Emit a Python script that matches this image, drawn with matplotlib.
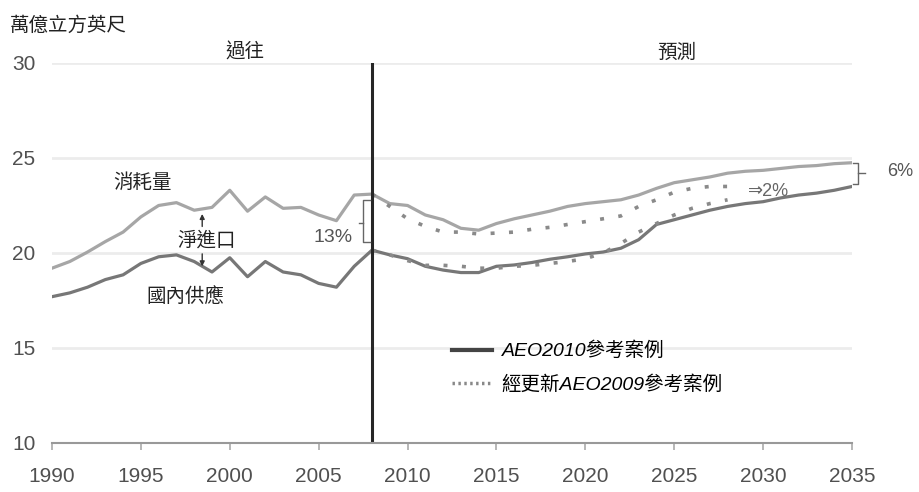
import matplotlib
matplotlib.use("Agg")
import matplotlib.pyplot as plt
from matplotlib.lines import Line2D

plt.rcParams['font.family'] = ['Noto Sans CJK TC', 'DejaVu Sans']

# AEO2010 (history 1990-2008 + projection to 2035), trillion cubic feet
years = list(range(1990, 2036))
consumption = [19.2, 19.55, 20.05, 20.6, 21.1, 21.9, 22.5, 22.65, 22.25, 22.4,
               23.3, 22.2, 22.95, 22.35, 22.4, 22.0, 21.7, 23.05, 23.1,
               22.6, 22.5, 22.0, 21.75, 21.3, 21.2, 21.55, 21.8, 22.0, 22.2,
               22.45, 22.6, 22.7, 22.8, 23.05, 23.4, 23.7, 23.85, 24.0, 24.2,
               24.3, 24.35, 24.45, 24.55, 24.6, 24.7, 24.75]
supply = [17.7, 17.9, 18.2, 18.6, 18.85, 19.45, 19.8, 19.9, 19.55, 19.0,
          19.75, 18.75, 19.55, 19.0, 18.85, 18.4, 18.2, 19.3, 20.15,
          19.9, 19.7, 19.3, 19.1, 18.97, 18.97, 19.3, 19.37, 19.5, 19.67,
          19.8, 19.95, 20.05, 20.25, 20.7, 21.5, 21.75, 22.0, 22.25, 22.45,
          22.6, 22.7, 22.9, 23.05, 23.15, 23.3, 23.5]

# updated AEO2009 reference case
years09 = list(range(2008, 2029))
consumption09 = [23.1, 22.45, 21.8, 21.4, 21.1, 21.1, 21.0, 21.05, 21.1, 21.25,
                 21.35, 21.5, 21.65, 21.8, 21.95, 22.45, 22.8, 23.2, 23.4,
                 23.5, 23.5]
supply09 = [20.15, 19.9, 19.6, 19.35, 19.35, 19.3, 19.2, 19.2, 19.3, 19.35,
            19.45, 19.55, 19.7, 20.0, 20.5, 21.1, 21.55, 22.0, 22.35, 22.6, 22.8]

xticks = [1990, 1995, 2000, 2005, 2010, 2015, 2020, 2025, 2030, 2035]
yticks = [10, 15, 20, 25, 30]

fig = plt.figure(figsize=(9.2, 4.92), dpi=100)
ax = fig.add_axes([0.0565, 0.0996, 0.8696, 0.7724])

ax.plot(years, consumption, color='#a6a6a6', lw=2.3, solid_joinstyle='round')
ax.plot(years, supply, color='#777777', lw=2.3, solid_joinstyle='round')
ax.plot(years09, consumption09, color='#8a8a8a', lw=2.6, dashes=(1.1, 4.0))
ax.plot(years09, supply09, color='#8a8a8a', lw=2.6, dashes=(1.1, 4.0))

ax.axvline(2008, color='#262626', lw=2.2)

ax.set_xlim(1990, 2035)
ax.set_ylim(10, 30)
ax.set_xticks(xticks)
ax.set_yticks(yticks)
ax.set_xticklabels([str(t) for t in xticks], family='Liberation Sans', fontsize=15, color='#505050')
ax.set_yticklabels([str(t) for t in yticks], family='Liberation Sans', fontsize=15, color='#505050')
ax.tick_params(axis='x', length=5, width=1.2, color='#aaaaaa', pad=12)
ax.tick_params(axis='y', length=0, pad=12)
ax.grid(axis='y', color='#ececec', lw=2)
ax.set_axisbelow(True)
for s in ['left', 'top', 'right']:
    ax.spines[s].set_visible(False)
ax.spines['bottom'].set_color('#999999')
ax.spines['bottom'].set_linewidth(1.5)

fig.text(0.011, 0.949, '萬億立方英尺', fontsize=14, va='center', ha='left', color='#222222')
ax.text(2000.85, 30.58, '過往', fontsize=14, ha='center', va='center', color='#222222')
ax.text(2025.15, 30.58, '預測', fontsize=14, ha='center', va='center', color='#222222')
ax.text(1995.1, 23.7, '消耗量', fontsize=14, ha='center', va='center', color='#222222')
ax.text(1998.7, 20.68, '淨進口', fontsize=14, ha='center', va='center', color='#222222')
ax.text(1997.5, 17.68, '國內供應', fontsize=14, ha='center', va='center', color='#222222')

# net import arrows
arrow = dict(arrowstyle='-|>', color='#333333', lw=1, mutation_scale=7)
ax.annotate('', xy=(1998.45, 22.2), xytext=(1998.45, 21.25), arrowprops=arrow)
ax.annotate('', xy=(1998.45, 19.15), xytext=(1998.45, 20.1), arrowprops=arrow)

# 13% bracket
bc = '#666666'
ax.plot([2007.9, 2007.51, 2007.51, 2007.9], [22.79, 22.79, 20.6, 20.6], color=bc, lw=1)
ax.plot([2007.27, 2007.51], [21.6, 21.6], color=bc, lw=1)
ax.text(2005.8, 20.79, '13%', family='Liberation Sans', fontsize=14, ha='center', va='center', color='#555555')

# 6% bracket
ax.plot([2035.05, 2035.35, 2035.35, 2035.05], [24.72, 24.72, 23.65, 23.65], color=bc, lw=1, clip_on=False)
ax.plot([2035.35, 2035.75], [24.2, 24.2], color=bc, lw=1, clip_on=False)
ax.text(2037.7, 24.28, '6%', family='Liberation Sans', fontsize=13, ha='center', va='center', color='#555555')
ax.text(2029.15, 23.23, '⇒2%', family=['Liberation Sans', 'DejaVu Sans'], fontsize=13, ha='left', va='center', color='#666666')

handles = [Line2D([], [], color='#444444', lw=3),
           Line2D([], [], color='#888888', lw=2.5, dashes=(0.7, 1.0))]
labels = ['AEO2010參考案例', '經更新AEO2009參考案例']
ax.legend(handles, labels, loc='upper left', bbox_to_anchor=(0.5, 0.266), frameon=False,
          borderpad=0, borderaxespad=0, handlelength=2.05, handletextpad=0.5, labelspacing=0.75,
          prop=dict(family=['Liberation Sans', 'Noto Sans CJK TC'], style='italic', size=14))

fig.savefig('out.png', dpi=100)
